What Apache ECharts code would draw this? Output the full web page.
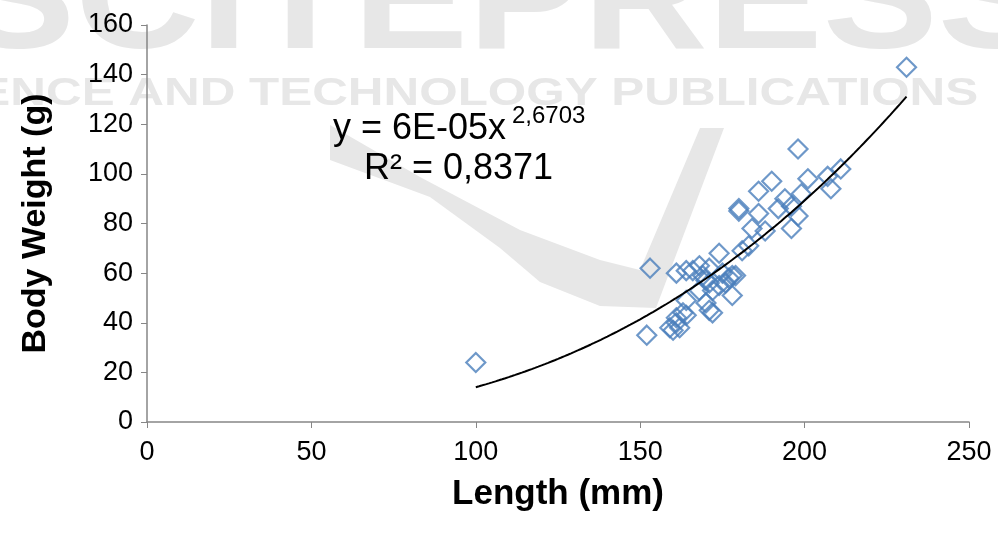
<!DOCTYPE html>
<html>
<head>
<meta charset="utf-8">
<script src="https://cdn.jsdelivr.net/npm/echarts@6/dist/echarts.min.js"></script>
<style>
html,body{margin:0;padding:0;background:#fff;}
#chart{width:998px;height:541px;}
</style>
</head>
<body>
<div id="chart"></div>
<script>
// Observed data: [length (mm), body weight (g)]
var lengths = [100,152,153,159,160,161,162,161,163,164,164,161,164,166,168,169,170,171,170,171,172,168,171,172,174,175,176,177,178,179,178,174,181,183,180,180,184,186,186,188,190,192,194,196,196,198,198,199,201,207,208,211,231];
var weights = [24,35,62,38,37,40,38,42,44,43,49,60,61,61,63,59,57,62,48,45,44,53,56,53,55,60,56,58,59,59,51,68,69,71,86,85,78,84,93,77,97,86,90,87,78,83,110,92,98,99,94,102,143];
var xTicks = [0,50,100,150,200,250];
var yTicks = [0,20,40,60,80,100,120,140,160];
// Power trendline y = A * x^B (displayed as 6E-05 x^2,6703)
var TREND_A = 6.4e-5, TREND_B = 2.6703;
var trendFrom = 100, trendTo = 231;

var points = lengths.map(function(l,i){return [l, weights[i]];});
var trend = [];
for (var x = trendFrom; x <= trendTo; x += 1) { trend.push([x, TREND_A*Math.pow(x, TREND_B)]); }

var font = 'Liberation Sans, Arial, sans-serif';
var axisColor = '#868686';
var wm = '#e7e7e7';
var chart = echarts.init(document.getElementById('chart'));
chart.setOption({
  backgroundColor: '#fff',
  animation: false,
  grid: {left: 147, right: 29, top: 25, bottom: 119},
  graphic: [
    {type:'text', x: -40, y: -68, scaleX: 1.15, z: 0, silent:true,
     style:{text:'SCITEPRESS', font:'bold 150px ' + font, fill: wm, verticalAlign:'top'}},
    {type:'text', x: -105, y: 76, scaleX: 1.3, z: 0, silent:true,
     style:{text:'SCIENCE AND TECHNOLOGY PUBLICATIONS', font:'bold 38px ' + font, fill: wm, verticalAlign:'top'}},
    {type:'polygon', z: 0, silent:true,
     shape:{points:[[330,125],[420,177],[520,230],[600,260],[640,270],[700,128],[724,128],[656,308],[600,306],[540,282],[500,248],[430,197],[330,160]]},
     style:{fill: wm}},
    {type:'text', x: 333, y: 111, z: 10,
     style:{text:'y = 6E-05x', font:'36px ' + font, fill:'#000', verticalAlign:'top'}},
    {type:'text', x: 512, y: 104, z: 10,
     style:{text:'2,6703', font:'24px ' + font, fill:'#000', verticalAlign:'top'}},
    {type:'text', x: 364, y: 151, z: 10,
     style:{text:'R\u00b2 = 0,8371', font:'36px ' + font, fill:'#000', verticalAlign:'top'}}
  ],
  xAxis: {
    type: 'value', min: 0, max: 250, interval: 50,
    name: 'Length (mm)', nameLocation: 'middle', nameGap: 55,
    nameTextStyle: {fontFamily: font, fontSize: 35, fontWeight: 'bold', color: '#000'},
    axisLine: {show: true, onZero: false, lineStyle: {color: axisColor, width: 1.5}},
    axisTick: {show: true, length: 6, lineStyle: {color: axisColor}},
    axisLabel: {fontFamily: font, fontSize: 27, color: '#000', margin: 17,
      formatter: function(v){ return xTicks.indexOf(v) >= 0 ? String(v) : ''; }},
    splitLine: {show: false}
  },
  yAxis: {
    type: 'value', min: 0, max: 160, interval: 20,
    name: 'Body Weight (g)', nameLocation: 'middle', nameGap: 94,
    nameTextStyle: {fontFamily: font, fontSize: 34, fontWeight: 'bold', color: '#000'},
    axisLine: {show: true, lineStyle: {color: axisColor, width: 1.5}},
    axisTick: {show: true, length: 6, lineStyle: {color: axisColor}},
    axisLabel: {fontFamily: font, fontSize: 27, color: '#000', margin: 14,
      formatter: function(v){ return yTicks.indexOf(v) >= 0 ? String(v) : ''; }},
    splitLine: {show: false}
  },
  series: [
    {
      type: 'scatter', data: points, symbol: 'diamond', symbolSize: 19, z: 3,
      itemStyle: {color: 'rgba(0,0,0,0)', borderColor: '#4A7EBB', borderWidth: 2.2}
    },
    {
      type: 'line', data: trend, showSymbol: false, smooth: false, z: 4,
      lineStyle: {color: '#000', width: 2}
    }
  ]
});
</script>
</body>
</html>
